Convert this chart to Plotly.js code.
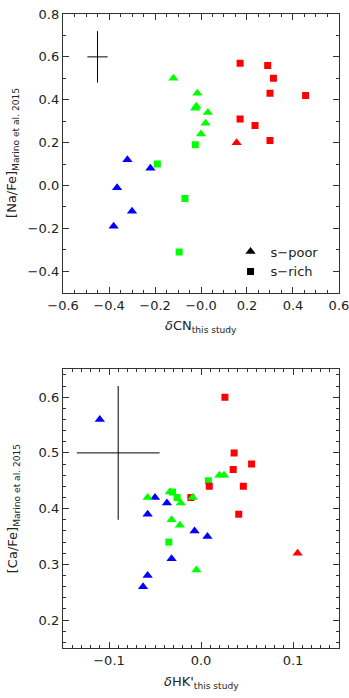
<!DOCTYPE html>
<html><head><meta charset="utf-8">
<script src="https://cdn.plot.ly/plotly-3.0.1.min.js"></script>
<style>html,body{margin:0;padding:0;background:#fff}#chart{width:349px;height:698px}</style>
</head><body><div id="chart"></div>
<script>
// ---- Top panel: [Na/Fe] vs dCN ----
const naBlueTriX = [-0.32, -0.22, -0.365, -0.30, -0.38];
const naBlueTriY = [0.12, 0.08, -0.01, -0.12, -0.19];
const naGreenTriX = [-0.12, -0.016, -0.02, -0.025, 0.03, 0.02, 0.0];
const naGreenTriY = [0.50, 0.43, 0.37, 0.36, 0.34, 0.29, 0.24];
const naGreenSqX = [-0.025, -0.19, -0.07, -0.095];
const naGreenSqY = [0.19, 0.10, -0.06, -0.31];
const naRedSqX = [0.17, 0.29, 0.315, 0.30, 0.455, 0.17, 0.235, 0.30];
const naRedSqY = [0.57, 0.56, 0.50, 0.43, 0.42, 0.31, 0.28, 0.21];
const naRedTriX = [0.155];
const naRedTriY = [0.20];
const naErrX = [-0.45], naErrY = [0.60], naErrDx = [0.044], naErrDy = [0.12];

// ---- Bottom panel: [Ca/Fe] vs dHK' ----
const caBlueTriX = [-0.11, -0.05, -0.037, -0.058, -0.007, 0.007, -0.032, -0.058, -0.063];
const caBlueTriY = [0.56, 0.42, 0.41, 0.39, 0.36, 0.35, 0.31, 0.28, 0.26];
const caGreenSqX = [-0.031, -0.026, 0.008, -0.035];
const caGreenSqY = [0.43, 0.42, 0.45, 0.34];
const caRedSqX = [0.026, 0.036, 0.035, 0.055, 0.046, 0.009, 0.041, -0.011];
const caRedSqY = [0.60, 0.50, 0.47, 0.48, 0.44, 0.44, 0.39, 0.42];
const caGreenTriX = [-0.058, -0.034, -0.022, -0.009, 0.020, 0.025, -0.032, -0.023, -0.005];
const caGreenTriY = [0.42, 0.43, 0.41, 0.42, 0.46, 0.46, 0.38, 0.37, 0.29];
const caRedTriX = [0.105];
const caRedTriY = [0.32];
const caErrX = [-0.09], caErrY = [0.50], caErrDx = [0.045], caErrDy = [0.12];

// tick labels
const topXTickVals = [-0.6, -0.4, -0.2, 0, 0.2, 0.4, 0.6];
const topXTickText = ['\u22120.6', '\u22120.4', '\u22120.2', '\u22120.0', '0.2', '0.4', '0.6'];
const legendNames = ['s\u2212poor', 's\u2212rich'];

const BLUE = '#0000ff', GREEN = '#00ff00', RED = '#ff0000';
const TRI = 9, SQ = 7;

function pts(x, y, color, symbol, size, xa, ya) {
  return {x: x, y: y, xaxis: xa, yaxis: ya, type: 'scatter', mode: 'markers', showlegend: false,
    hoverinfo: 'skip', marker: {color: color, symbol: symbol, size: size, line: {width: 0}}};
}
function cross(x, y, dx, dy, xa, ya) {
  return {x: x, y: y, xaxis: xa, yaxis: ya, type: 'scatter', mode: 'markers', showlegend: false,
    hoverinfo: 'skip', marker: {size: 0, color: 'rgba(0,0,0,0)'},
    error_x: {type: 'data', array: dx, visible: true, width: 0, thickness: 1, color: '#000'},
    error_y: {type: 'data', array: dy, visible: true, width: 0, thickness: 1, color: '#000'}};
}

const data = [
  cross(naErrX, naErrY, naErrDx, naErrDy, 'x', 'y'),
  pts(naBlueTriX, naBlueTriY, BLUE, 'triangle-up', TRI, 'x', 'y'),
  pts(naGreenSqX, naGreenSqY, GREEN, 'square', SQ, 'x', 'y'),
  pts(naGreenTriX, naGreenTriY, GREEN, 'triangle-up', TRI, 'x', 'y'),
  pts(naRedSqX, naRedSqY, RED, 'square', SQ, 'x', 'y'),
  pts(naRedTriX, naRedTriY, RED, 'triangle-up', TRI, 'x', 'y'),
  cross(caErrX, caErrY, caErrDx, caErrDy, 'x2', 'y2'),
  pts(caBlueTriX, caBlueTriY, BLUE, 'triangle-up', TRI, 'x2', 'y2'),
  pts(caGreenSqX, caGreenSqY, GREEN, 'square', SQ, 'x2', 'y2'),
  pts(caRedSqX, caRedSqY, RED, 'square', SQ, 'x2', 'y2'),
  pts(caGreenTriX, caGreenTriY, GREEN, 'triangle-up', TRI, 'x2', 'y2'),
  pts(caRedTriX, caRedTriY, RED, 'triangle-up', TRI, 'x2', 'y2'),
  {x: [null], y: [null], xaxis: 'x', yaxis: 'y', type: 'scatter', mode: 'markers', name: legendNames[0],
    marker: {color: '#000', symbol: 'triangle-up', size: 9}},
  {x: [null], y: [null], xaxis: 'x', yaxis: 'y', type: 'scatter', mode: 'markers', name: legendNames[1],
    marker: {color: '#000', symbol: 'square', size: 7}}
];

const FONT = 'DejaVu Sans, sans-serif';
const AX = '#333';
function axis(extra) {
  return Object.assign({
    showgrid: false, zeroline: false, showline: true, linecolor: AX, linewidth: 1.2,
    mirror: 'allticks', ticks: 'inside', ticklen: 6, tickwidth: 1, tickcolor: AX,
    ticklabeloverflow: 'allow',
    tickfont: {family: FONT, size: 13, color: '#222'}, fixedrange: true
  }, extra);
}

const layout = {
  width: 349, height: 698,
  margin: {l: 63, r: 10, t: 14, b: 50},
  paper_bgcolor: '#fff', plot_bgcolor: '#fff',
  font: {family: FONT, size: 13, color: '#222'},
  xaxis: axis({domain: [0, 1], anchor: 'y', range: [-0.6002, 0.6002], tickmode: 'array',
    tickvals: topXTickVals, ticktext: topXTickText,
    minor: {tickmode: 'linear', dtick: 0.05, tick0: 0, ticks: 'inside', ticklen: 3, tickcolor: AX}}),
  yaxis: axis({domain: [0.5604, 1], anchor: 'x', range: [-0.5, 0.8], dtick: 0.2, tick0: 0, tickformat: '.1f',
    minor: {dtick: 0.1, tick0: 0, ticks: 'inside', ticklen: 3, tickcolor: AX}}),
  xaxis2: axis({domain: [0, 1], anchor: 'y2', range: [-0.15, 0.15], dtick: 0.1, tick0: 0, tickformat: '.1f',
    minor: {dtick: 0.01, tick0: 0, ticks: 'inside', ticklen: 3, tickcolor: AX}}),
  yaxis2: axis({domain: [0, 0.4396], anchor: 'x2', range: [0.15, 0.65], dtick: 0.1, tick0: 0, tickformat: '.1f',
    minor: {dtick: 0.02, tick0: 0, ticks: 'inside', ticklen: 3, tickcolor: AX}}),
  showlegend: true,
  legend: {x: 0.607, y: 0.649, xanchor: 'left', yanchor: 'top', bgcolor: 'rgba(0,0,0,0)',
    font: {family: FONT, size: 13, color: '#222'}, tracegroupgap: 0},
  annotations: [
    {xref: 'paper', yref: 'paper', x: 0.5, y: 0.5068, xanchor: 'center', yanchor: 'middle', showarrow: false,
      text: '<i>\u03b4</i>CN<sub>this study</sub>', font: {family: FONT, size: 13, color: '#222'}},
    {xref: 'paper', yref: 'paper', x: 0.5, y: -0.0552, xanchor: 'center', yanchor: 'middle', showarrow: false,
      text: "<i>\u03b4</i>HK'<sub>this study</sub>", font: {family: FONT, size: 13, color: '#222'}},
    {xref: 'paper', yref: 'paper', x: -0.181, y: 0.781, xanchor: 'center', yanchor: 'middle', showarrow: false,
      textangle: -90, text: '[Na/Fe]<sub>Marino et al. 2015</sub>', font: {family: FONT, size: 13, color: '#222'}},
    {xref: 'paper', yref: 'paper', x: -0.181, y: 0.219, xanchor: 'center', yanchor: 'middle', showarrow: false,
      textangle: -90, text: '[Ca/Fe]<sub>Marino et al. 2015</sub>', font: {family: FONT, size: 13, color: '#222'}}
  ]
};

Plotly.newPlot('chart', data, layout, {staticPlot: true, displayModeBar: false});
</script></body></html>
